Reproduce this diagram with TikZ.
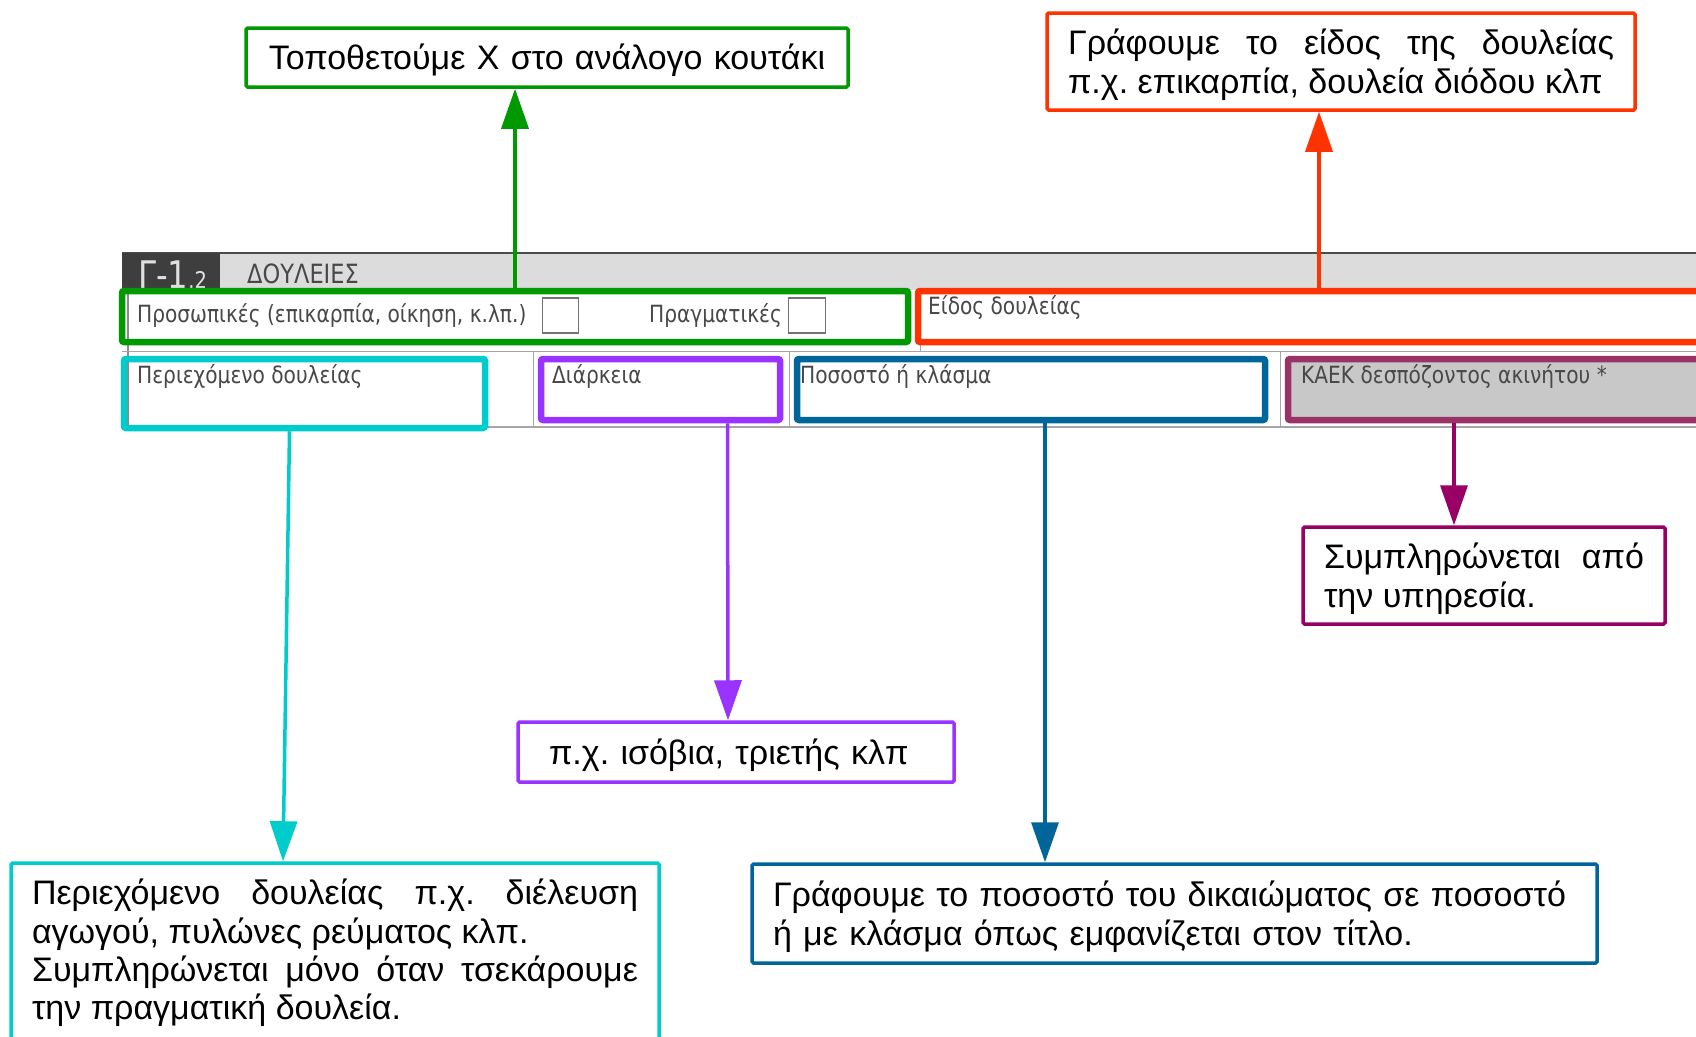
\documentclass[tikz,border=0pt]{standalone}
\usepackage{fontspec}
\setmainfont{Liberation Sans}
\newfontfamily\formfont[FakeStretch=0.85]{DejaVu Sans}
\usetikzlibrary{arrows.meta,calc}
\hyphenpenalty=10000
\exhyphenpenalty=10000
\frenchspacing
\definecolor{cgreen}{HTML}{009900}
\definecolor{cred}{HTML}{FF3300}
\definecolor{ccyan}{HTML}{00CCCC}
\definecolor{cpurple}{HTML}{9933FF}
\definecolor{cblue}{HTML}{006699}
\definecolor{cmag}{HTML}{990066}
\definecolor{cmagf}{HTML}{993366}
\definecolor{hdrgray}{HTML}{DCDCDC}
\definecolor{darkblk}{HTML}{3E3E3E}
\definecolor{labgray}{HTML}{484848}
\definecolor{kaekgray}{HTML}{C8C8C8}
\begin{document}
\begin{tikzpicture}[x=1pt,y=-1pt,
  fieldbox/.style={draw, line width=6.5pt, rounded corners=2pt, inner sep=0pt},
  callbox/.style={draw, line width=3.5pt, rounded corners=1.5pt, inner ysep=0pt,
    font=\fontsize{34}{38.4}\selectfont},
  lowered/.style={execute at begin node={\rule{0pt}{32pt}}},
  arrowline/.style={line width=3.5pt, -{Triangle[length=40pt,width=27pt]}},
  formlab/.style={anchor=base west, inner sep=0pt, text=labgray,
    font=\formfont\fontsize{23.7}{23.7}\selectfont}]
\useasboundingbox (0,0) rectangle (1696,1036);
\clip (0,0) rectangle (1696,1036);
\fill[white] (0,0) rectangle (1696,1036);
% form background
\fill[white] (122,290) rectangle (1700,430);
\fill[hdrgray] (122,253) rectangle (1700,290);
\draw[line width=2pt, black!70] (122,253) -- (1700,253);
\fill[darkblk] (122,253) rectangle (220,290);
\draw[line width=1.5pt, black!45] (128,290) -- (128,428);
\draw[line width=1pt, black!35] (122,351) -- (1700,351);
\draw[line width=2pt, black!35] (122,427) -- (1700,427);
\draw[line width=1pt, black!35] (920,290) -- (920,351);
\draw[line width=1pt, black!35] (533,351) -- (533,427);
\draw[line width=1pt, black!35] (789,351) -- (789,427);
\draw[line width=1pt, black!35] (1280,351) -- (1280,427);
\node[anchor=base west, inner sep=0pt, text=black!12,
  font=\formfont\fontsize{38}{38}\selectfont] (gnum) at (138,288)
  {Γ-1{\fontsize{23}{23}\selectfont.2}};
\node[anchor=base west, inner sep=0pt, text=labgray,
  font=\formfont\fontsize{26.5}{26.5}\selectfont] (hdr) at (247,283) {ΔΟΥΛΕΙΕΣ};
% field highlight boxes
\node[fieldbox, draw=cgreen, minimum width=786pt, minimum height=51pt] (gf) at (515,316.5) {};
\node[fieldbox, draw=cred, minimum width=802pt, minimum height=51pt] (rf) at (1319,316.5) {};
\node[fieldbox, draw=ccyan, minimum width=361pt, minimum height=69pt] (cf) at (304.5,393.5) {};
\node[fieldbox, draw=cpurple, minimum width=239pt, minimum height=61pt] (pf) at (660.5,389.5) {};
\node[fieldbox, draw=cblue, minimum width=468pt, minimum height=61pt] (bf) at (1031,389.5) {};
\node[fieldbox, draw=cmagf, fill=kaekgray, minimum width=432pt, minimum height=61pt] (mf) at (1504,389.5) {};
% checkboxes
\node[draw=black!55, line width=1.5pt, minimum width=36pt, minimum height=35pt, inner sep=0pt] (ck1) at (560.5,315.5) {};
\node[draw=black!55, line width=1.5pt, minimum width=37pt, minimum height=35pt, inner sep=0pt] (ck2) at (807,315.5) {};
% form labels
\node[formlab] (l1) at (137,322) {Προσωπικές (επικαρπία, οίκηση, κ.λπ.)};
\node[formlab] (l2) at (649,322) {Πραγματικές};
\node[formlab] (l3) at (928,314) {Είδος δουλείας};
\node[formlab] (l4) at (137,383) {Περιεχόμενο δουλείας};
\node[formlab] (l5) at (552,383) {Διάρκεια};
\node[formlab] (l6) at (800,383) {Ποσοστό ή κλάσμα};
\node[formlab] (l7) at (1301,383) {ΚΑΕΚ δεσπόζοντος ακινήτου *};
% callout boxes
\node[callbox, lowered, draw=cgreen, minimum width=602pt, minimum height=59pt, inner xsep=10pt,
  text width=582pt, align=center] (gt) at (547,57.5) {Τοποθετούμε Χ στο ανάλογο κουτάκι};
\node[callbox, lowered, draw=cred, minimum width=588pt, minimum height=97pt, inner xsep=21pt,
  text width=546pt, align=justify] (rt) at (1341,61.5)
  {Γράφουμε το είδος της δουλείας\linebreak π.χ. επικαρπία, δουλεία διόδου κλπ};
\node[callbox, lowered, draw=cmag, minimum width=362pt, minimum height=97pt, inner xsep=21pt,
  text width=320pt, align=justify] (mb) at (1484,575.5)
  {Συμπληρώνεται \ από\linebreak την υπηρεσία.};
\node[callbox, lowered, draw=cpurple, minimum width=436pt, minimum height=60pt, inner xsep=31pt,
  text width=374pt, align=left] (pb) at (736,752) {π.χ. ισόβια, τριετής κλπ};
\node[callbox, draw=ccyan, minimum width=648pt, minimum height=180pt, inner xsep=21pt,
  text width=606pt, align=justify] (cb) at (335,953)
  {Περιεχόμενο δουλείας π.χ. διέλευση\linebreak αγωγού, πυλώνες ρεύματος κλπ.\hfill\null\linebreak Συμπληρώνεται μόνο όταν τσεκάρουμε\linebreak την πραγματική δουλεία.};
\node[callbox, lowered, draw=cblue, minimum width=845pt, minimum height=99pt, inner xsep=21pt,
  text width=803pt, align=left] (bb) at (1174.5,913.5)
  {Γράφουμε το ποσοστό του δικαιώματος σε ποσοστό\\ή με κλάσμα όπως εμφανίζεται στον τίτλο.};
% arrows
\draw[arrowline, cgreen] (gf.north) -- (gf.north |- gt.south);
\draw[arrowline, cred] (rf.north) -- (rf.north |- rt.south);
\draw[arrowline, ccyan] ($(cf.south)+(-15,0)$) -- ($(cb.north)+(-52,0)$);
\draw[arrowline, cpurple] ($(pf.south)+(67,0)$) -- ($(pb.north)+(-8,0)$);
\draw[arrowline, cblue] ($(bf.south)+(14,0)$) -- ($(bb.north)+(-129.5,0)$);
\draw[arrowline, cmag] ($(mf.south)+(-50,0)$) -- ($(mb.north)+(-30,0)$);
\end{tikzpicture}
\end{document}
